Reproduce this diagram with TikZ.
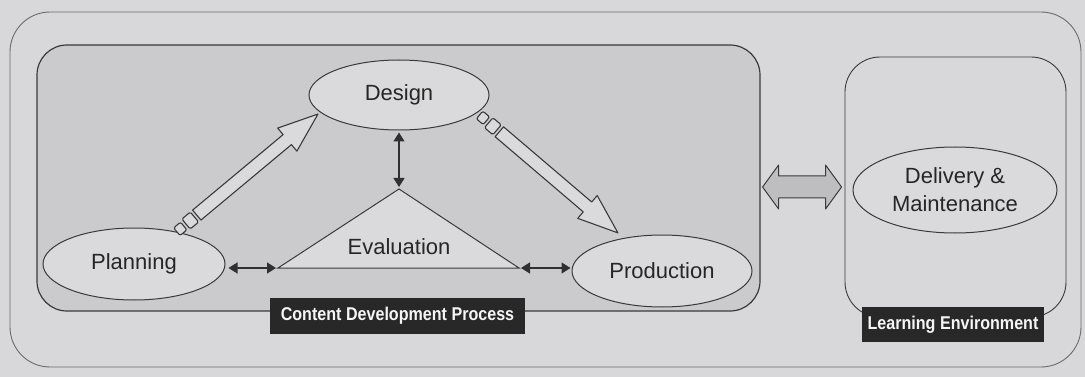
\documentclass[tikz,border=0pt]{standalone}
\usepackage{fontspec}
\setmainfont{Liberation Sans}
\usepackage{graphicx}
\usetikzlibrary{shapes.geometric,arrows.meta,calc}
\definecolor{bg}{HTML}{D8D8DA}
\definecolor{boxfill}{HTML}{CBCBCD}
\definecolor{elfill}{HTML}{DADADC}
\definecolor{ln}{HTML}{3A3A3A}
\definecolor{darkc}{HTML}{303030}
\definecolor{grayarr}{HTML}{BEBEC0}
\definecolor{lblbg}{HTML}{282828}

\newcommand\hollowarrow[2]{%
  \draw[harrow, rounded corners=2pt] ($(#1)!0pt!(#2)!5pt!90:(#2)$) -- ($(#1)!9pt!(#2)!5pt!90:(#2)$) -- ($(#1)!9pt!(#2)!5pt!-90:(#2)$) -- ($(#1)!0pt!(#2)!5pt!-90:(#2)$) -- cycle;
  \draw[harrow, rounded corners=1.5pt] ($(#1)!12pt!(#2)!6.5pt!90:(#2)$) -- ($(#1)!23pt!(#2)!6.5pt!90:(#2)$) -- ($(#1)!23pt!(#2)!6.5pt!-90:(#2)$) -- ($(#1)!12pt!(#2)!6.5pt!-90:(#2)$) -- cycle;
  \draw[harrow] ($(#1)!26pt!(#2)!6.5pt!90:(#2)$) -- ($(#2)!40pt!(#1)!6.5pt!-90:(#1)$) -- ($(#2)!40pt!(#1)!15pt!-90:(#1)$) -- (#2) -- ($(#2)!40pt!(#1)!15pt!90:(#1)$) -- ($(#2)!40pt!(#1)!6.5pt!90:(#1)$) -- ($(#1)!26pt!(#2)!6.5pt!-90:(#2)$) -- cycle;
}

\begin{document}
\begin{tikzpicture}[x=1pt,y=-1pt,
  txt/.style={font=\fontsize{22}{28}\selectfont, text=black!85},
  ell/.style={ellipse, draw=ln, line width=1pt, fill=elfill, inner sep=0pt, txt},
  cbox/.style={draw=ln, line width=1.2pt, rounded corners=30pt, fill=boxfill},
  lbox/.style={draw=ln, line width=0.9pt, rounded corners=35pt, fill=bg},
  lbl/.style={fill=lblbg, text=white!92!gray, inner sep=0pt, font=\bfseries\fontsize{18.5}{20}\selectfont},
  harrow/.style={draw=ln, line width=1.1pt, fill=elfill, line join=round},
  darr/.style={draw=darkc, line width=1.3pt, {Triangle[length=9pt,width=11pt]}-{Triangle[length=9pt,width=11pt]}},
  garrow/.style={draw=ln, line width=1pt, fill=grayarr, line join=round},
  tri/.style={draw=ln, line width=1pt, fill=elfill, line join=miter}
]
\useasboundingbox (0,0) rectangle (1085,377);
\fill[bg] (0,0) rectangle (1085,377);
\draw[draw=ln!75, line width=0.9pt, rounded corners=40pt] (10,12) rectangle (1081,367);

% boxes
\node[cbox, minimum width=723pt, minimum height=266pt] (cdp) at (398.5,178) {};
\node[lbox, minimum width=221pt, minimum height=260pt] (le) at (955.5,187) {};

% labels
\node[lbl, minimum width=255pt, minimum height=36pt] (cdplbl) at (397.5,316) {\scalebox{0.87}[1]{Content Development Process}};
\node[lbl, minimum width=182pt, minimum height=35pt] (lelbl) at (953,324.5) {\scalebox{0.87}[1]{Learning Environment}};

% ellipses
\node[ell, minimum width=180pt, minimum height=70pt] (des) at (399,95) {Design};
\node[ell, minimum width=182pt, minimum height=72pt] (plan) at (134,264) {Planning};
\node[ell, minimum width=180pt, minimum height=72pt] (prod) at (662,271) {Production};
\node[ell, minimum width=204pt, minimum height=86pt, align=center] (deliv) at (955,190) {Delivery \&\\Maintenance};

% evaluation triangle
\coordinate (evtop) at (399,189);
\coordinate (evl) at (278,268);
\coordinate (evr) at (519,268);
\draw[tri] (evtop) -- (evr) -- (evl) -- cycle;
\node[txt] (eval) at (399,247) {Evaluation};

% dark double arrows
\draw[darr, shorten <=2pt, shorten >=2pt] (des.south) -- (evtop);
\draw[darr, shorten <=3pt, shorten >=2pt] (plan.east |- evl) -- (evl);
\draw[darr, shorten <=2pt, shorten >=1pt] (evr) -- (prod.west |- evr);

% hollow arrows
\coordinate (a1s) at (plan.37);
\coordinate (a1e) at ([shift={(-3,1)}]des.193);
\coordinate (a2s) at ([shift={(1,3)}]des.-12);
\coordinate (a2e) at ([shift={(-6,-5)}]prod.139);
\hollowarrow{a1s}{a1e}
\hollowarrow{a2s}{a2e}

% gray double arrow
\coordinate (ga1) at ($(cdp.east)+(2,9)$);
\coordinate (ga2) at ($(le.west)+(-3,0)$);
\draw[garrow] (ga1) -- ++(16,-22) -- ++(0,11) -- ($(ga2)+(-16,-11)$) -- ++(0,-11) -- (ga2) -- ++(-16,22) -- ++(0,-11) -- ($(ga1)+(16,11)$) -- ++(0,11) -- cycle;
\end{tikzpicture}
\end{document}
